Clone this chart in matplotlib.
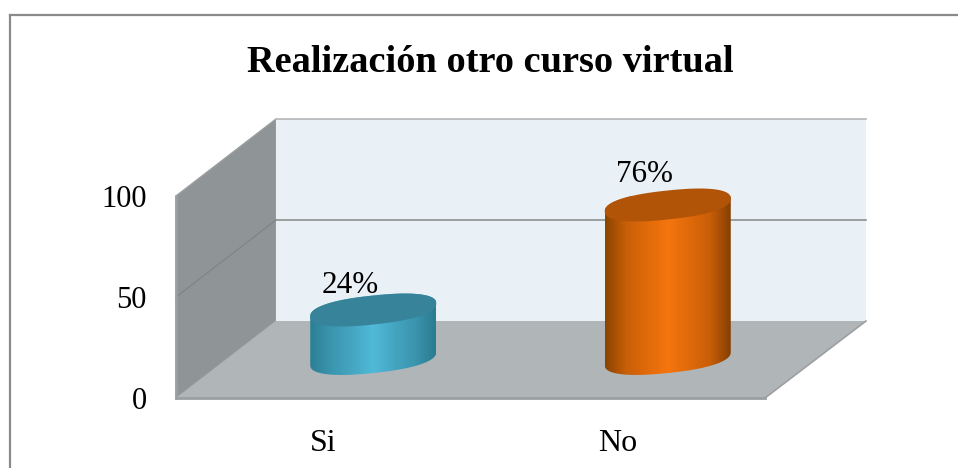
import numpy as np
import matplotlib
matplotlib.use('Agg')
import matplotlib.pyplot as plt
from matplotlib.colors import LinearSegmentedColormap
from matplotlib.lines import Line2D
from matplotlib.patches import Polygon

plt.rcParams['font.family'] = ['Liberation Serif', 'DejaVu Serif']

# Datos
categorias = ['Si', 'No']
valores = [24, 76]
etiquetas = ['24%', '76%']
ticks_y = [0, 50, 100]
titulo = 'Realización otro curso virtual'

W, H = 958, 468
fig = plt.figure(figsize=(W / 100, H / 100), dpi=100)

# El eje coincide con el plano frontal del gráfico 3D
x0, x1, y0, y1 = 176, 765, 398, 196
ax = fig.add_axes([x0 / W, 1 - y0 / H, (x1 - x0) / W, (y0 - y1) / H])
ax.set_xlim(0, 2)
ax.set_ylim(0, 100)
for s in ax.spines.values():
    s.set_visible(False)
ax.patch.set_visible(False)

# Escala: unidades de datos por pixel
ux = 2 / (x1 - x0)
uy = 100 / (y0 - y1)
# Profundidad de la caja 3D
dx = 100 * ux
dy = 77 * uy
xmax = 2 + dx + 1 * ux

pared = '#8f9597'
fondo = '#e9f0f6'
piso = '#b0b5b8'
linea = '#8d9191'

ax.add_patch(Polygon([(0, 0), (dx, dy), (dx, 100 + dy), (0, 100)], fc=pared, ec='#9a9e9f', lw=1, clip_on=False))
ax.add_patch(Polygon([(dx, dy), (xmax, dy), (xmax, 100 + dy), (dx, 100 + dy)], fc=fondo, ec='none', clip_on=False))
ax.add_patch(Polygon([(0, 0), (dx, dy), (xmax, dy), (2, 0)], fc=piso, ec='none', clip_on=False))

# Lineas de la caja y rejilla
ax.plot([dx, xmax], [100 + dy, 100 + dy], color='#b4b6b7', lw=1.2, clip_on=False)
ax.plot([dx, xmax], [50 + dy, 50 + dy], color=linea, lw=1.2, clip_on=False)
ax.plot([0, dx], [50, 50 + dy], color='#7f8485', lw=0.9, clip_on=False)
ax.plot([0, 2], [0, 0], color='#9c9fa1', lw=2, clip_on=False)
ax.plot([0, 0], [0, 100], color='#9c9fa1', lw=1.8, clip_on=False)
ax.plot([2, xmax], [0, dy], color='#9c9fa1', lw=1.2, clip_on=False)


# Elipse algo redondeada e inclinada, como en el original
def elipse(t, a, b, s):
    c = np.sign(np.cos(t)) * np.abs(np.cos(t)) ** 0.85
    d = np.sign(np.sin(t)) * np.abs(np.sin(t)) ** 0.85
    return a * c, b * d + s * c


# Cilindro con degradado horizontal
def cilindro(xc, valor, tonos, tapa):
    cx = xc + dx / 2
    base = dy / 2 + 1 * uy
    a, b, s = 63 * ux, 14.5 * uy, 6.5 * uy
    t = np.linspace(0, 2 * np.pi, 300)
    ex, ey = elipse(t, a, b, s)
    # contorno del cuerpo: mitad inferior de la base y mitad superior
    fx, fy = elipse(np.linspace(np.pi, 2 * np.pi, 150), a, b, s)
    ux_, uy_ = elipse(np.linspace(0, np.pi, 150), a, b, s)
    cuerpo = np.column_stack([np.r_[cx + fx, cx + ux_], np.r_[base + fy, base + valor + uy_]])
    cmap = LinearSegmentedColormap.from_list('c', tonos)
    im = ax.imshow(np.linspace(0, 1, 256)[None, :], cmap=cmap, aspect='auto', zorder=3,
                   extent=[cx - a, cx + a, base - b - s, base + valor + b + s], clip_on=True)
    clip = Polygon(cuerpo, closed=True, transform=ax.transData, fc='none', ec='none')
    ax.add_patch(clip)
    im.set_clip_path(clip)
    ax.fill(cx + ex, base + valor + ey, color=tapa, lw=0, zorder=4, clip_on=False)
    return base + valor + b + s


colores = [(['#2a7f95', '#3b95ae', '#45a6c2', '#50bad9', '#45a6c2', '#3b95ae', '#2a7b90'], '#37839a'),
           (['#8a4402', '#c95f08', '#e06a0a', '#f5750e', '#e06a0a', '#c95f08', '#843f02'], '#b25408')]
# separacion de cada etiqueta sobre el cilindro, en pixeles
sep_etiqueta = [-4, 2]
for i, v in enumerate(valores):
    tope = cilindro(i + 0.5, v, *colores[i])
    ax.text(i + 0.5 + 27 * ux, tope + sep_etiqueta[i] * uy, etiquetas[i], ha='center', va='baseline',
            fontsize=22.4, color='black', zorder=5, clip_on=False)

ax.set_xlim(0, 2)
ax.set_ylim(0, 100)
ax.set_xticks([0.5, 1.5], categorias, fontsize=23)
ax.set_yticks(ticks_y, [str(t) for t in ticks_y], fontsize=22)
ax.tick_params(axis='x', length=0, pad=22)
ax.tick_params(axis='y', length=0, pad=21)

fig.text(490 / W, 1 - 62 / H, titulo, ha='center', va='center', fontsize=27.6, fontweight='bold')

# Marco exterior
marco = '#8a8a8a'
fig.add_artist(Line2D([10 / W, 10 / W], [0, 1 - 15 / H], color=marco, lw=1.6))
fig.add_artist(Line2D([10 / W, 1], [1 - 15 / H, 1 - 15 / H], color=marco, lw=1.6))

fig.savefig('out.png', dpi=100)
